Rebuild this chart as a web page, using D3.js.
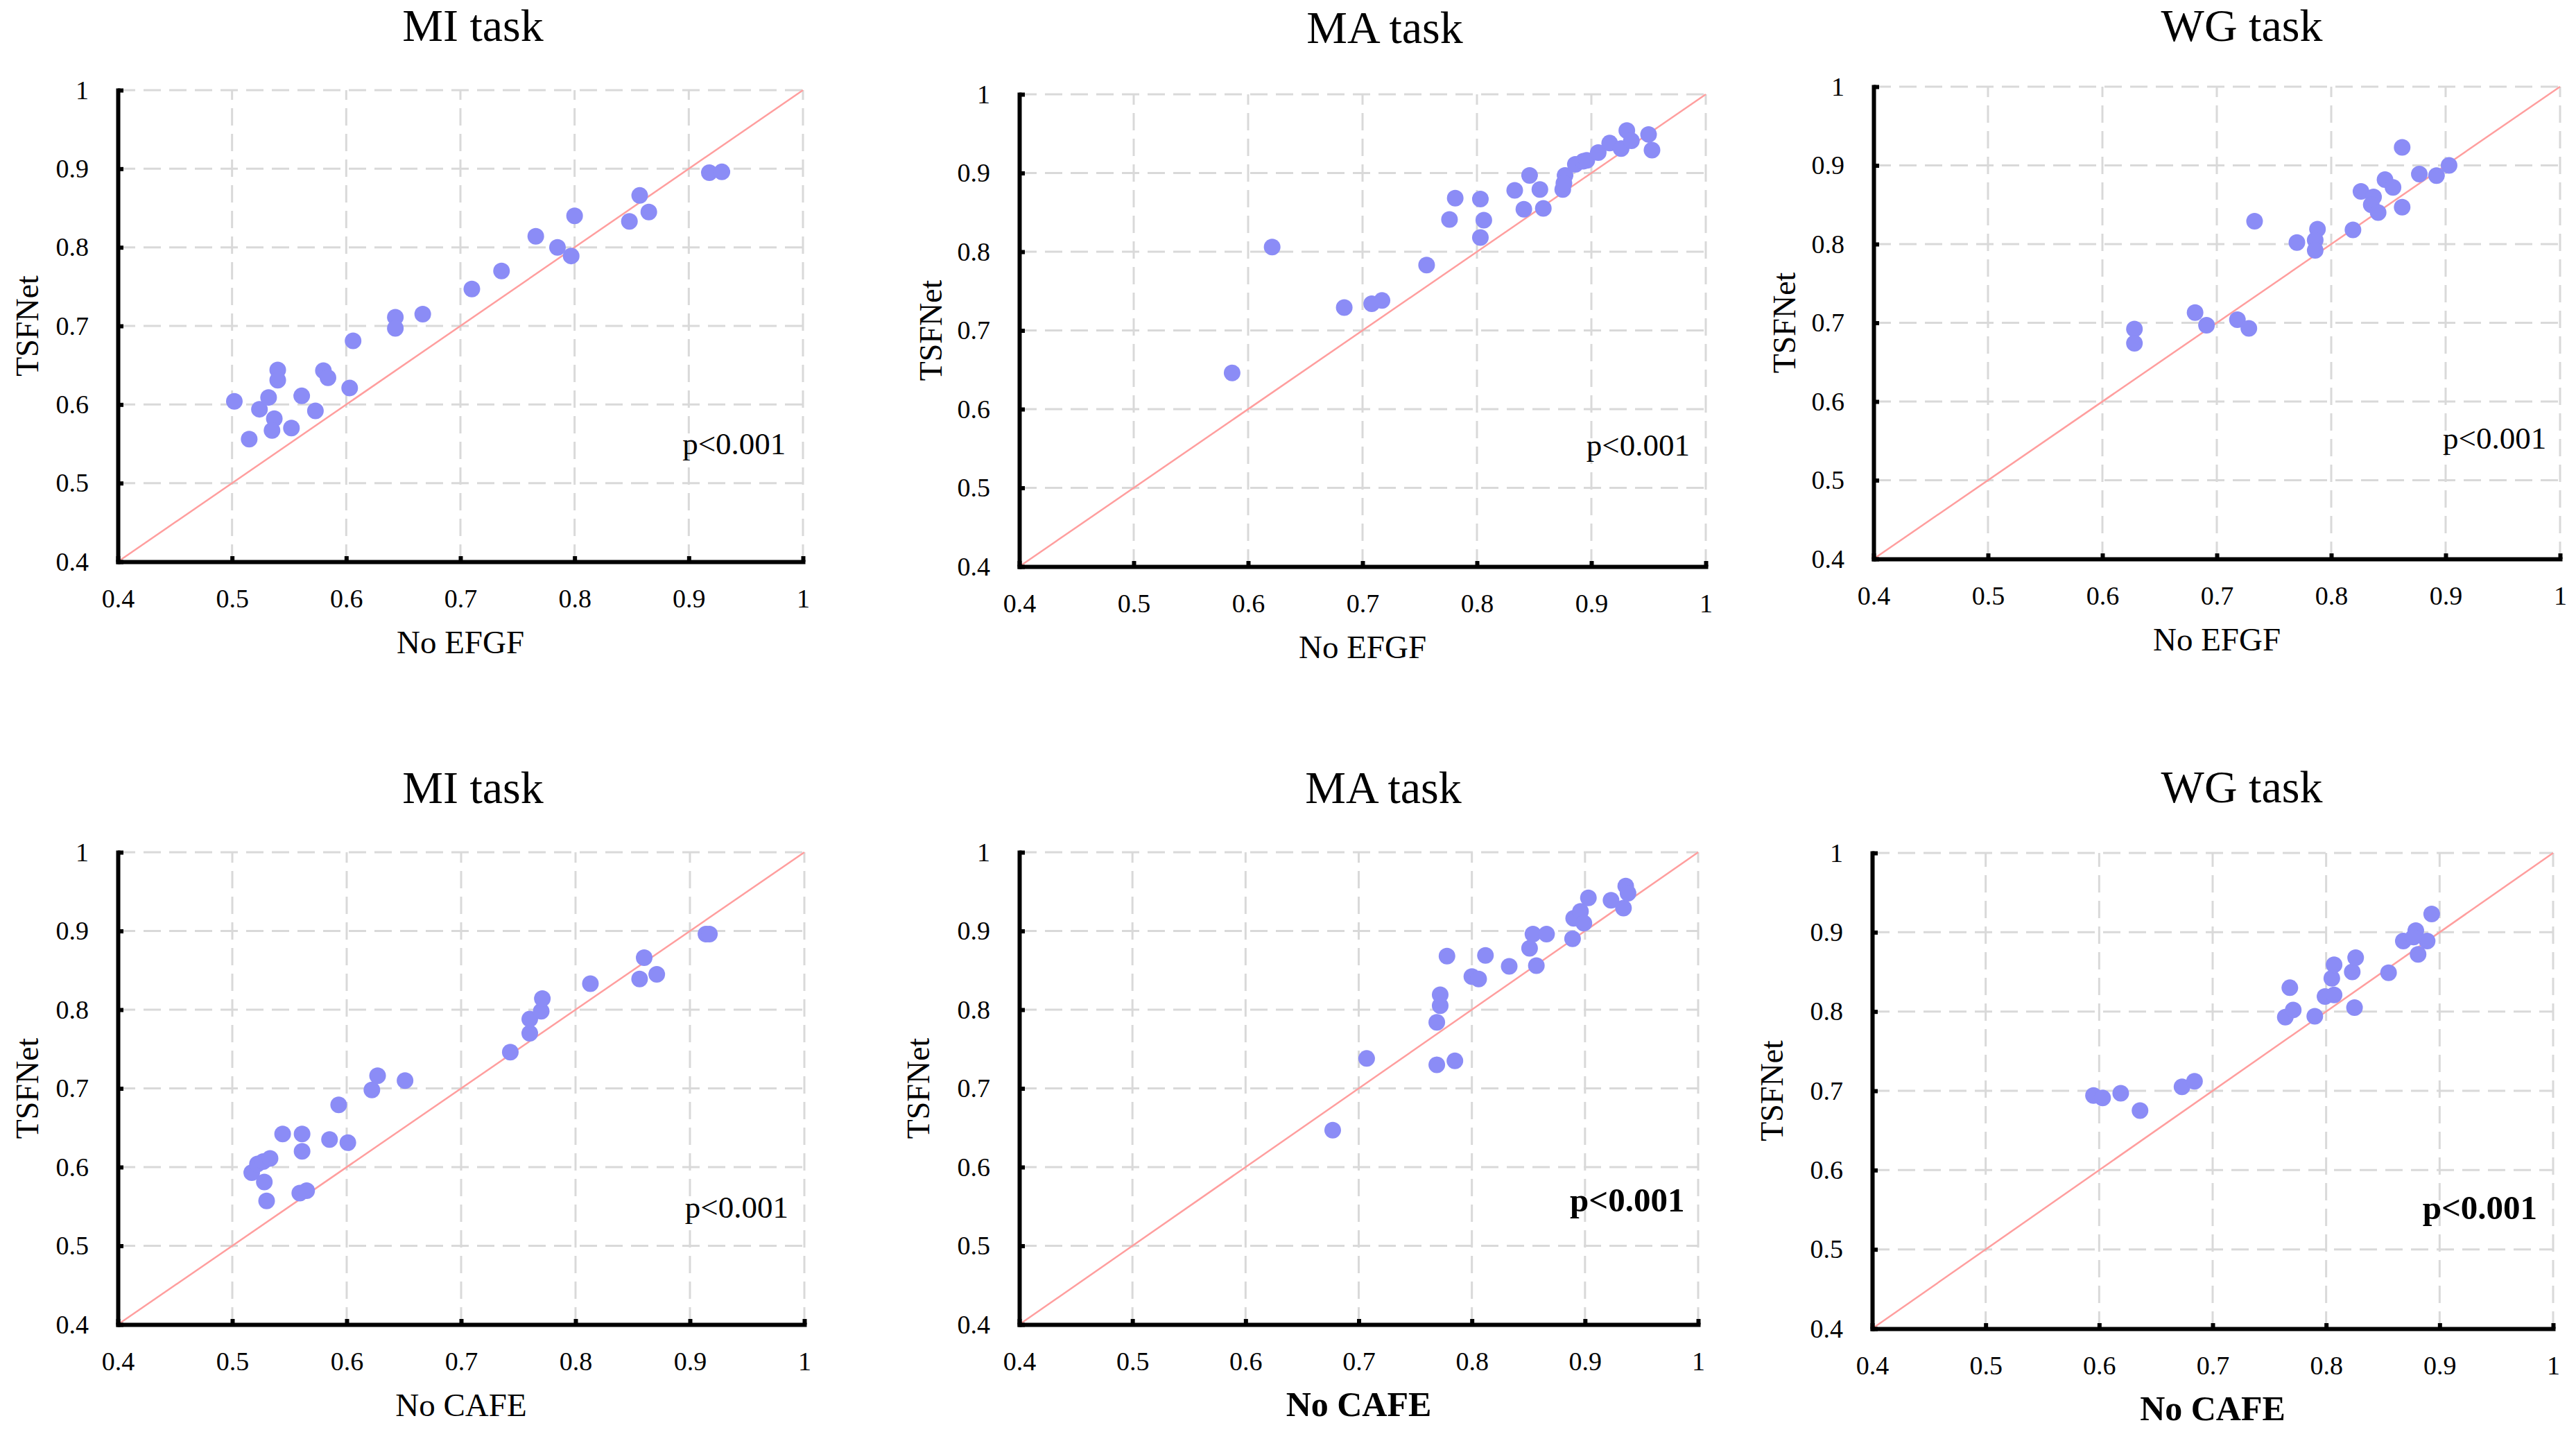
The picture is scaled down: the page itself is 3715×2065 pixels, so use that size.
<!DOCTYPE html>
<html>
<head>
<meta charset="utf-8">
<script src="https://cdn.jsdelivr.net/npm/d3@7"></script>
<style>
  html, body { margin: 0; padding: 0; background: #fff; }
  svg { display: block; }
</style>
</head>
<body>
<svg id="chart" width="3715" height="2065"></svg>
<script>
// ---------------- DATA ----------------
const tickValues = [0.4, 0.5, 0.6, 0.7, 0.8, 0.9, 1.0];
const tickLabels = ["0.4", "0.5", "0.6", "0.7", "0.8", "0.9", "1"];
const panelTitles = ["MI task", "MA task", "WG task", "MI task", "MA task", "WG task"];
const xTitles = ["No EFGF", "No EFGF", "No EFGF", "No CAFE", "No CAFE", "No CAFE"];
const yTitle = "TSFNet";
const pLabel = "p<0.001";

// MI task, No EFGF vs TSFNet
const miEfgfX = [0.502,0.515,0.524,0.532,0.537,0.535,0.540,0.540,0.552,0.561,0.573,0.580,0.584,0.603,0.606,0.643,0.643,0.667,0.710,0.736,0.766,0.785,0.797,0.800,0.848,0.857,0.865,0.918,0.929];
const miEfgfY = [0.604,0.556,0.594,0.609,0.582,0.567,0.644,0.631,0.570,0.611,0.592,0.643,0.634,0.621,0.681,0.711,0.697,0.715,0.747,0.770,0.814,0.800,0.789,0.840,0.833,0.866,0.845,0.895,0.896];
// MA task, No EFGF vs TSFNet
const maEfgfX = [0.586,0.621,0.684,0.708,0.717,0.756,0.776,0.781,0.803,0.806,0.803,0.833,0.841,0.846,0.855,0.858,0.875,0.877,0.876,0.886,0.893,0.896,0.906,0.916,0.926,0.931,0.935,0.950,0.953];
const maEfgfY = [0.646,0.806,0.729,0.734,0.738,0.783,0.841,0.868,0.867,0.840,0.818,0.878,0.854,0.897,0.879,0.855,0.879,0.897,0.887,0.911,0.915,0.916,0.926,0.938,0.931,0.954,0.941,0.949,0.929];
// WG task, No EFGF vs TSFNet
const wgEfgfX = [0.628,0.628,0.681,0.691,0.718,0.728,0.733,0.770,0.788,0.786,0.786,0.819,0.826,0.837,0.835,0.841,0.847,0.854,0.862,0.862,0.877,0.892,0.903];
const wgEfgfY = [0.692,0.674,0.713,0.697,0.704,0.693,0.829,0.802,0.819,0.805,0.792,0.818,0.867,0.860,0.850,0.840,0.882,0.872,0.923,0.847,0.889,0.887,0.900];
// MI task, No CAFE vs TSFNet
const miCafeX = [0.517,0.522,0.527,0.533,0.528,0.530,0.544,0.561,0.561,0.559,0.565,0.585,0.601,0.593,0.622,0.627,0.651,0.743,0.760,0.760,0.770,0.771,0.813,0.856,0.860,0.871,0.914,0.917];
const miCafeY = [0.593,0.604,0.607,0.611,0.581,0.557,0.642,0.642,0.620,0.567,0.570,0.635,0.631,0.679,0.698,0.716,0.710,0.746,0.770,0.788,0.798,0.814,0.833,0.839,0.866,0.845,0.896,0.896];
// MA task, No CAFE vs TSFNet
const maCafeX = [0.677,0.707,0.769,0.785,0.769,0.772,0.772,0.778,0.800,0.806,0.812,0.833,0.851,0.854,0.857,0.866,0.889,0.890,0.896,0.899,0.903,0.923,0.934,0.936,0.938];
const maCafeY = [0.647,0.738,0.730,0.735,0.784,0.805,0.819,0.868,0.842,0.839,0.869,0.855,0.878,0.896,0.856,0.896,0.890,0.916,0.925,0.910,0.942,0.939,0.929,0.957,0.948];
// WG task, No CAFE vs TSFNet
const wgCafeX = [0.595,0.603,0.619,0.636,0.673,0.684,0.764,0.771,0.768,0.790,0.799,0.807,0.805,0.807,0.823,0.826,0.825,0.855,0.868,0.879,0.881,0.889,0.893,0.877];
const wgCafeY = [0.694,0.691,0.697,0.675,0.705,0.712,0.793,0.802,0.830,0.794,0.819,0.821,0.842,0.859,0.850,0.868,0.805,0.849,0.889,0.902,0.872,0.889,0.923,0.894];

const seriesX = [miEfgfX, maEfgfX, wgEfgfX, miCafeX, maCafeX, wgCafeX];
const seriesY = [miEfgfY, maEfgfY, wgEfgfY, miCafeY, maCafeY, wgCafeY];
const pAt = [[0.985,0.537],[0.986,0.541],[0.988,0.540],[0.986,0.536],[0.988,0.544],[0.986,0.538]];
const boldP = [false,false,false,false,true,true];
const boldX = [false,false,false,false,true,true];

// ---------------- LAYOUT ----------------
const layout = [
  {l:170,  r:1158, t:130,  b:810,  titleX:682,  titleY:59,   yLabX:40},
  {l:1470, r:2460, t:136,  b:817,  titleX:1997, titleY:62,   yLabX:1343},
  {l:2702, r:3692, t:125,  b:806,  titleX:3233, titleY:59,   yLabX:2574},
  {l:170,  r:1160, t:1229, b:1910, titleX:682,  titleY:1158, yLabX:40},
  {l:1470, r:2449, t:1229, b:1910, titleX:1995, titleY:1158, yLabX:1325},
  {l:2700, r:3682, t:1230, b:1916, titleX:3233, titleY:1157, yLabX:2556}
];

const FONT = "'Liberation Serif', 'Times New Roman', serif";
const svg = d3.select("#chart");

layout.forEach((L, i) => {
  const x = d3.scaleLinear().domain([0.4, 1]).range([L.l, L.r]);
  const y = d3.scaleLinear().domain([0.4, 1]).range([L.b, L.t]);
  const g = svg.append("g");

  // gridlines
  g.append("g").selectAll("line").data(tickValues.slice(1)).join("line")
    .attr("x1", d => x(d)).attr("x2", d => x(d))
    .attr("y1", y(0.4)).attr("y2", y(1))
    .attr("stroke", "#d9d9d9").attr("stroke-width", 3)
    .attr("stroke-dasharray", "25,12");
  g.append("g").selectAll("line").data(tickValues.slice(1)).join("line")
    .attr("y1", d => y(d)).attr("y2", d => y(d))
    .attr("x1", x(0.4)).attr("x2", x(1))
    .attr("stroke", "#d9d9d9").attr("stroke-width", 3)
    .attr("stroke-dasharray", "25,12");

  // diagonal
  g.append("line")
    .attr("x1", x(0.4)).attr("y1", y(0.4))
    .attr("x2", x(1)).attr("y2", y(1))
    .attr("stroke", "#ff9e9e").attr("stroke-width", 2.5);

  // points
  const pts = seriesX[i].map((v, k) => [v, seriesY[i][k]]);
  g.append("g").selectAll("circle").data(pts).join("circle")
    .attr("cx", d => x(d[0])).attr("cy", d => y(d[1]))
    .attr("r", 12).attr("fill", "#8b8cf6");

  // axes
  const fmt = d => tickLabels[tickValues.indexOf(d)];
  const xAxis = d3.axisBottom(x).tickValues(tickValues).tickFormat(fmt)
    .tickSizeInner(-8).tickSizeOuter(0).tickPadding(39);
  const yAxis = d3.axisLeft(y).tickValues(tickValues).tickFormat(fmt)
    .tickSizeInner(-8).tickSizeOuter(0).tickPadding(42);

  const gx = g.append("g").attr("transform", `translate(0,${L.b})`).call(xAxis);
  const gy = g.append("g").attr("transform", `translate(${L.l},0)`).call(yAxis);
  [gx, gy].forEach(a => {
    a.select(".domain").attr("stroke", "#000").attr("stroke-width", 6).attr("stroke-linecap", "square");
    a.selectAll(".tick line").attr("stroke", "#000").attr("stroke-width", 6);
    a.selectAll(".tick text").attr("font-family", FONT).attr("font-size", 38).attr("fill", "#000");
  });

  // title
  g.append("text").attr("x", L.titleX).attr("y", L.titleY)
    .attr("text-anchor", "middle").attr("font-family", FONT)
    .attr("font-size", 66).attr("fill", "#000").text(panelTitles[i]);

  // x title
  g.append("text").attr("x", (L.l + L.r) / 2).attr("y", L.b + 132)
    .attr("text-anchor", "middle").attr("font-family", FONT)
    .attr("font-size", boldX[i] ? 50 : 47).attr("font-weight", boldX[i] ? "bold" : "normal")
    .attr("fill", "#000").text(xTitles[i]);

  // y title
  g.append("text")
    .attr("transform", `translate(${L.yLabX + 15},${(L.t + L.b) / 2}) rotate(-90)`)
    .attr("text-anchor", "middle").attr("font-family", FONT)
    .attr("font-size", 46).attr("fill", "#000").text(yTitle);

  // p-value
  g.append("text").attr("x", x(pAt[i][0])).attr("y", y(pAt[i][1]))
    .attr("text-anchor", "end").attr("font-family", FONT)
    .attr("font-size", boldP[i] ? 49 : 45).attr("font-weight", boldP[i] ? "bold" : "normal")
    .attr("fill", "#000").text(pLabel);
});
</script>
</body>
</html>
